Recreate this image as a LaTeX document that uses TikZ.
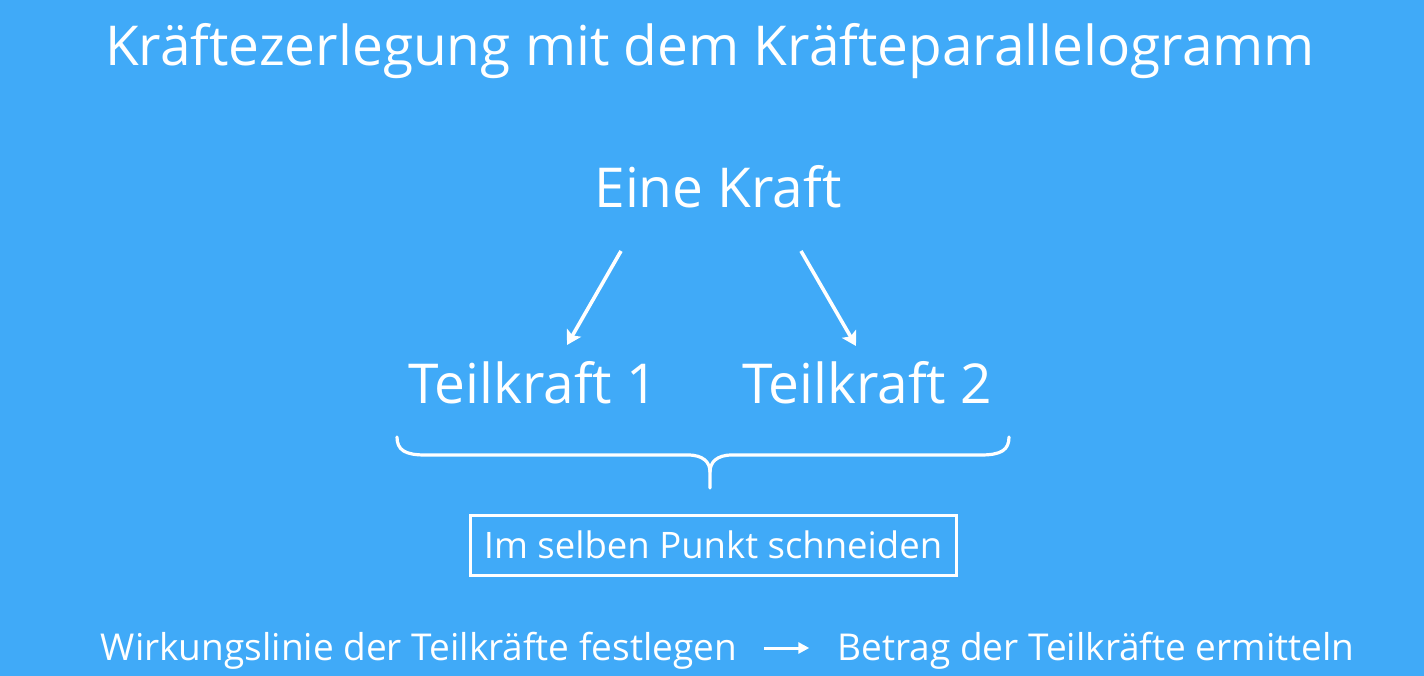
\documentclass[tikz,border=0pt]{standalone}
\usepackage{fontspec}
\setmainfont{Open Sans}
\usetikzlibrary{arrows.meta}
\definecolor{bg}{RGB}{64,170,248}
\begin{document}
\begin{tikzpicture}[x=1pt,y=-1pt,
  txt/.style={text=white,inner sep=0pt,anchor=base},
  big/.style={font=\fontsize{55}{66}\selectfont},
  small/.style={font=\fontsize{37}{44}\selectfont},
  arr/.style={draw=white,line width=3.6pt,-{Stealth[length=14pt,width=16pt,inset=3pt]}}]
\fill[bg] (0,0) rectangle (1424,676);
\useasboundingbox (0,0) rectangle (1424,676);
\node[txt,big] (title) at (710,66) {Kräftezerlegung mit dem Kräfteparallelogramm};
\node[txt,big] (eine) at (718,208) {Eine Kraft};
\node[txt,big] (t1) at (533,403) {Teilkraft 1};
\node[txt,big] (t2) at (867,403) {Teilkraft 2};
\coordinate (a1s) at (621,251);
\coordinate (a1e) at (567,345);
\coordinate (a2s) at (801,251);
\coordinate (a2e) at (856,346);
\draw[arr] (a1s) -- (a1e);
\draw[arr] (a2s) -- (a2e);
\coordinate (bl) at (397,437);
\coordinate (br) at (1009,437);
\coordinate (bt) at (710,488);
\draw[white,line width=3.2pt,line cap=round]
  (bl) .. controls (397,450) and (405,455) .. (425,455) -- (688,455)
  .. controls (703,455) and (710,462) .. (710,472) -- (bt);
\draw[white,line width=3.2pt,line cap=round]
  (br) .. controls (1009,450) and (1001,455) .. (981,455) -- (732,455)
  .. controls (717,455) and (710,462) .. (710,472);
\node[draw=white,line width=3pt,text=white,minimum width=486pt,minimum height=60pt,inner sep=0pt,font=\fontsize{36.5}{44}\selectfont] (box) at (713,545) {Im selben Punkt schneiden};
\node[txt,small] (w) at (419,660) {Wirkungslinie der Teilkräfte festlegen};
\node[txt,small] (b) at (1096,660) {Betrag der Teilkräfte ermitteln};
\draw[white,line width=3pt,-{Triangle[length=11pt,width=11pt]}] ([xshift=27pt,yshift=12pt]w.base east) -- ([xshift=-28pt,yshift=12pt]b.base west);
\end{tikzpicture}
\end{document}
